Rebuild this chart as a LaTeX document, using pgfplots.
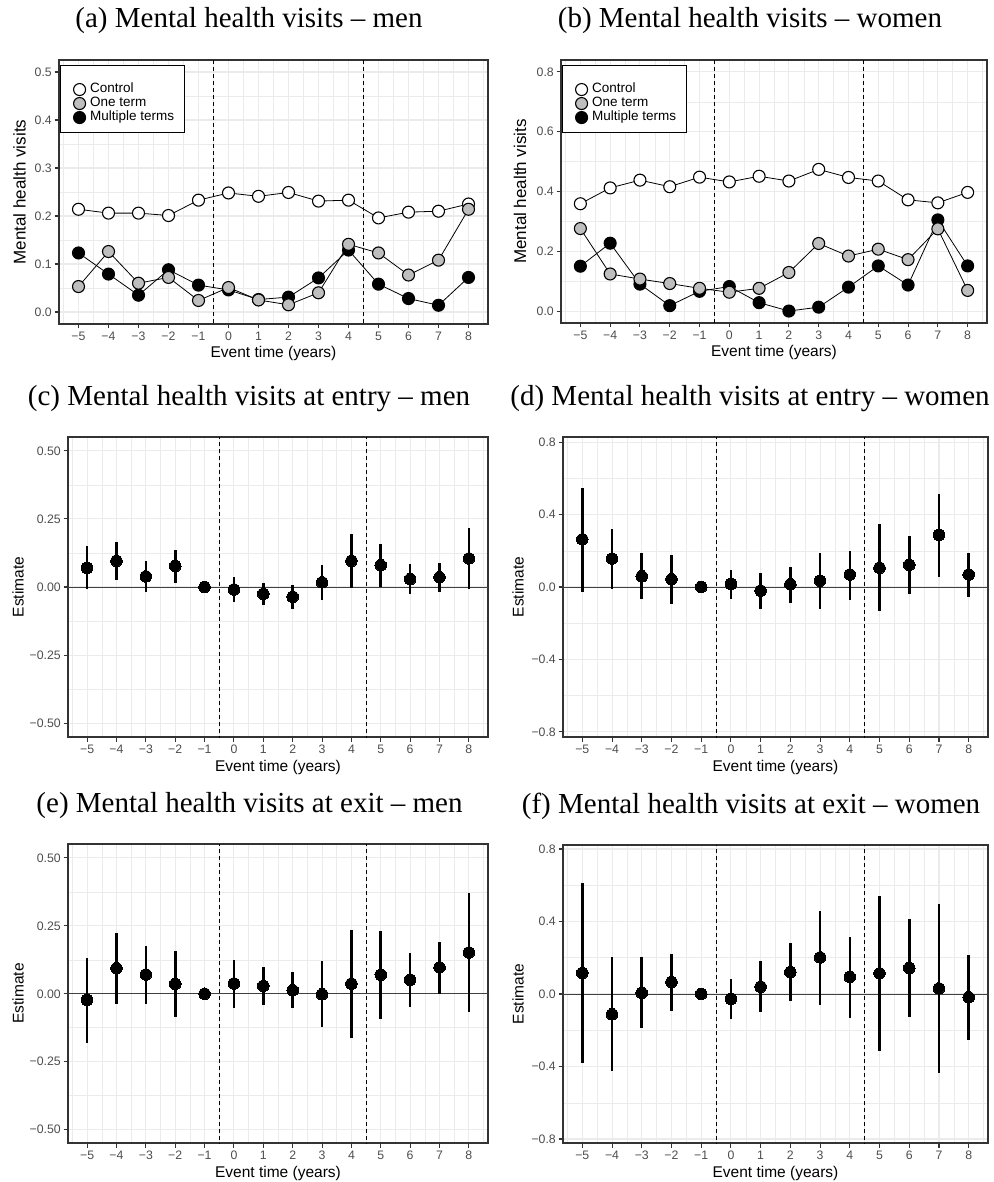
\documentclass[border=0pt]{standalone}
\usepackage{pgfplots}
\pgfplotsset{compat=1.18}
\usepackage{pgfplotstable}
\usepackage{fontspec}
\setmainfont{Liberation Sans}
\newfontfamily\serif{Liberation Serif}
\definecolor{grid92}{RGB}{235,235,235}
\definecolor{grey20}{RGB}{51,51,51}
\definecolor{grey30}{RGB}{77,77,77}
\definecolor{ggrey}{RGB}{190,190,190}

% (a) men: x control one-term multiple-terms
\pgfplotstableread{
x ctrl one mult
-5 0.214 0.053 0.123
-4 0.206 0.126 0.079
-3 0.206 0.060 0.035
-2 0.201 0.072 0.088
-1 0.233 0.024 0.056
0 0.248 0.051 0.046
1 0.241 0.025 0.026
2 0.249 0.015 0.031
3 0.231 0.040 0.071
4 0.233 0.141 0.129
5 0.196 0.123 0.058
6 0.208 0.077 0.028
7 0.210 0.108 0.014
8 0.225 0.214 0.072
}\tabA
% (b) women
\pgfplotstableread{
x ctrl one mult
-5 0.359 0.276 0.150
-4 0.412 0.124 0.227
-3 0.438 0.107 0.090
-2 0.416 0.092 0.018
-1 0.448 0.076 0.066
0 0.432 0.063 0.082
1 0.451 0.076 0.028
2 0.435 0.129 0.000
3 0.474 0.226 0.013
4 0.447 0.184 0.080
5 0.435 0.207 0.151
6 0.372 0.172 0.087
7 0.362 0.275 0.305
8 0.397 0.069 0.151
}\tabB
% (c) entry men: x estimate lower upper
\pgfplotstableread{
x y lo hi
-5 0.070 -0.006 0.150
-4 0.096 0.025 0.165
-3 0.039 -0.017 0.096
-2 0.077 0.013 0.137
-1 0 0 0
0 -0.009 -0.055 0.037
1 -0.025 -0.065 0.016
2 -0.036 -0.080 0.009
3 0.017 -0.049 0.082
4 0.096 -0.002 0.194
5 0.080 0.000 0.158
6 0.029 -0.025 0.083
7 0.036 -0.020 0.089
8 0.105 -0.007 0.217
}\tabC
% (d) entry women
\pgfplotstableread{
x y lo hi
-5 0.263 -0.026 0.548
-4 0.157 -0.011 0.320
-3 0.059 -0.065 0.185
-2 0.043 -0.094 0.176
-1 0 0 0
0 0.017 -0.065 0.094
1 -0.020 -0.120 0.078
2 0.015 -0.089 0.111
3 0.035 -0.122 0.189
4 0.069 -0.069 0.200
5 0.106 -0.135 0.346
6 0.122 -0.039 0.280
7 0.287 0.057 0.515
8 0.069 -0.056 0.189
}\tabD
% (e) exit men
\pgfplotstableread{
x y lo hi
-5 -0.023 -0.180 0.131
-4 0.094 -0.036 0.223
-3 0.071 -0.036 0.176
-2 0.036 -0.085 0.156
-1 0 0 0
0 0.038 -0.051 0.126
1 0.029 -0.042 0.100
2 0.013 -0.054 0.080
3 -0.002 -0.124 0.119
4 0.037 -0.161 0.233
5 0.070 -0.094 0.232
6 0.051 -0.047 0.151
7 0.097 0.000 0.192
8 0.152 -0.066 0.370
}\tabE
% (f) exit women
\pgfplotstableread{
x y lo hi
-5 0.116 -0.378 0.611
-4 -0.112 -0.422 0.202
-3 0.006 -0.189 0.202
-2 0.066 -0.092 0.220
-1 0 0 0
0 -0.028 -0.139 0.084
1 0.040 -0.101 0.180
2 0.121 -0.039 0.279
3 0.202 -0.059 0.459
4 0.094 -0.134 0.316
5 0.114 -0.314 0.539
6 0.143 -0.128 0.413
7 0.031 -0.433 0.494
8 -0.018 -0.251 0.213
}\tabF

\pgfplotsset{
  gg/.style={
    scale only axis,
    anchor=north west,
    xmin=-5.65, xmax=8.65,
    xtick={-5,...,8},
    xticklabels={−5,−4,−3,−2,−1,0,1,2,3,4,5,6,7,8},
    minor xtick={-5.5,-4.5,...,8.5},
    grid=both,
    major grid style={grid92, line width=1.07pt},
    minor grid style={grid92, line width=0.53pt},
    tick align=outside,
    xtick pos=left, ytick pos=left,
    major tick length=4.5pt,
    minor tick length=0pt,
    every tick/.style={grey20, line width=1.07pt},
    axis line style={grey20, line width=1.07pt},
    tick label style={font=\fontsize{12.3}{14}\selectfont, text=grey30},
    yticklabel style={inner sep=2.5pt},
    xlabel={Event time (years)},
    every axis x label/.style={at={(axis description cs:0.5,0)}, anchor=base, yshift=-34pt, font=\fontsize{15.5}{18}\selectfont},
    title style={at={(axis description cs:0.5,1)}, anchor=base, yshift=26pt, font=\serif\fontsize{29}{32}\selectfont},
  },
  ylab/.style={every axis y label/.style={at={(axis description cs:#1,0.5)}, rotate=90, anchor=center, font=\fontsize{15.5}{18}\selectfont}},
  ylabtop/.style={every axis y label/.style={at={(axis description cs:#1,0.5)}, rotate=90, anchor=center, font=\fontsize{17}{20}\selectfont}},
  topleg/.style={
    legend style={at={(axis description cs:0,1)}, anchor=north west, xshift=1pt, yshift=-5pt,
      draw=black, line width=1.1pt, fill=white, inner xsep=10.5pt, inner ysep=8pt,
      font=\fontsize{13.5}{14}\selectfont,
      nodes={inner sep=0pt, text height=9.5pt, text depth=4.5pt}, column sep=4.5pt},
    legend cell align=left,
  },
  est/.style={only marks, mark=*, mark size=5.8pt, black, mark options={fill=black, draw=black, line width=0pt},
    error bars/.cd, y dir=both, y explicit, error mark=none, error bar style={line width=2.6pt, black}},
  conn/.style={black, line width=0.8pt, no markers, forget plot},
  pt/.style={only marks, mark=*, mark size=6pt, mark options={fill=#1, draw=black, line width=1.1pt}, forget plot},
  legpt/.style={only marks, mark=*, mark size=6pt, mark options={fill=#1, draw=black, line width=1.1pt}},
}

\newcommand\estplots[1]{%
  \addplot[black!75, line width=1pt, forget plot] coordinates {(-6,0) (9,0)};
  \addplot[black, line width=0.6pt, dash pattern=on 4pt off 3pt, forget plot] coordinates {(-0.5,-1) (-0.5,1)};
  \addplot[black, line width=0.6pt, dash pattern=on 4pt off 3pt, forget plot] coordinates {(4.5,-1) (4.5,1)};
  \addplot[est] table[x=x, y=y, y error plus expr=\thisrow{hi}-\thisrow{y}, y error minus expr=\thisrow{y}-\thisrow{lo}]{#1};
}
\newcommand\lineplots[1]{%
  \addlegendimage{empty legend}
  \addlegendentry[text height=9pt, text depth=0pt]{}
  \addlegendimage{legpt=white}
  \addlegendentry{Control}
  \addlegendimage{legpt=ggrey}
  \addlegendentry{One term}
  \addlegendimage{legpt=black}
  \addlegendentry{Multiple terms}
  \addplot[black, line width=0.6pt, dash pattern=on 4pt off 3pt, forget plot] coordinates {(-0.5,-1) (-0.5,1)};
  \addplot[black, line width=0.6pt, dash pattern=on 4pt off 3pt, forget plot] coordinates {(4.5,-1) (4.5,1)};
  \addplot[conn] table[x=x, y=ctrl]{#1};
  \addplot[conn] table[x=x, y=mult]{#1};
  \addplot[conn] table[x=x, y=one]{#1};
  \addplot[pt=white] table[x=x, y=ctrl]{#1};
  \addplot[pt=black] table[x=x, y=mult]{#1};
  \addplot[pt=ggrey] table[x=x, y=one]{#1};
}

\begin{document}
\begin{tikzpicture}
\path[use as bounding box] (0,0) rectangle (993pt,-1182pt);

% (a)
\begin{axis}[gg, ylabtop=-0.0921, topleg, at={(59pt,-60pt)}, width=429pt, height=264pt,
  ymin=-0.025, ymax=0.525, ytick={0,0.1,0.2,0.3,0.4,0.5},
  yticklabels={0.0,0.1,0.2,0.3,0.4,0.5}, minor ytick={0.05,0.15,0.25,0.35,0.45},
  ylabel={Mental health visits},
  title={(a) Mental health visits – men}, title style={xshift=-24.5pt}]
\lineplots{\tabA}
\end{axis}

% (b)
\begin{axis}[gg, ylabtop=-0.0962, topleg, at={(561pt,-60pt)}, width=426pt, height=263pt,
  ymin=-0.04, ymax=0.84, ytick={0,0.2,0.4,0.6,0.8},
  yticklabels={0.0,0.2,0.4,0.6,0.8}, minor ytick={0.1,0.3,0.5,0.7},
  ylabel={Mental health visits},
  title={(b) Mental health visits – women}, title style={xshift=-24pt}]
\lineplots{\tabB}
\end{axis}

% (c)
\begin{axis}[gg, ylab=-0.119, at={(68pt,-437pt)}, width=420pt, height=300pt,
  ymin=-0.551, ymax=0.551, ytick={-0.5,-0.25,0,0.25,0.5},
  yticklabels={−0.50,−0.25,0.00,0.25,0.50}, minor ytick={-0.375,-0.125,0.125,0.375},
  ylabel={Estimate},
  title={(c) Mental health visits at entry – men}, title style={xshift=-29pt}]
\estplots{\tabC}
\end{axis}

% (d)
\begin{axis}[gg, ylab=-0.1059, at={(563pt,-437pt)}, width=425pt, height=300pt,
  ymin=-0.828, ymax=0.828, ytick={-0.8,-0.4,0,0.4,0.8},
  yticklabels={−0.8,−0.4,0.0,0.4,0.8}, minor ytick={-0.6,-0.2,0.2,0.6},
  ylabel={Estimate},
  title={(d) Mental health visits at entry – women}, title style={xshift=-25.5pt}]
\estplots{\tabD}
\end{axis}

% (e)
\begin{axis}[gg, ylab=-0.119, at={(68pt,-844pt)}, width=420pt, height=299pt,
  ymin=-0.549, ymax=0.551, ytick={-0.5,-0.25,0,0.25,0.5},
  yticklabels={−0.50,−0.25,0.00,0.25,0.50}, minor ytick={-0.375,-0.125,0.125,0.375},
  ylabel={Estimate},
  title={(e) Mental health visits at exit – men}, title style={xshift=-28.5pt}]
\estplots{\tabE}
\end{axis}

% (f)
\begin{axis}[gg, ylab=-0.1059, at={(563pt,-845pt)}, width=425pt, height=298pt,
  ymin=-0.822, ymax=0.822, ytick={-0.8,-0.4,0,0.4,0.8},
  yticklabels={−0.8,−0.4,0.0,0.4,0.8}, minor ytick={-0.6,-0.2,0.2,0.6},
  ylabel={Estimate},
  title={(f) Mental health visits at exit – women}, title style={xshift=-24.5pt}]
\estplots{\tabF}
\end{axis}
\end{tikzpicture}
\end{document}
